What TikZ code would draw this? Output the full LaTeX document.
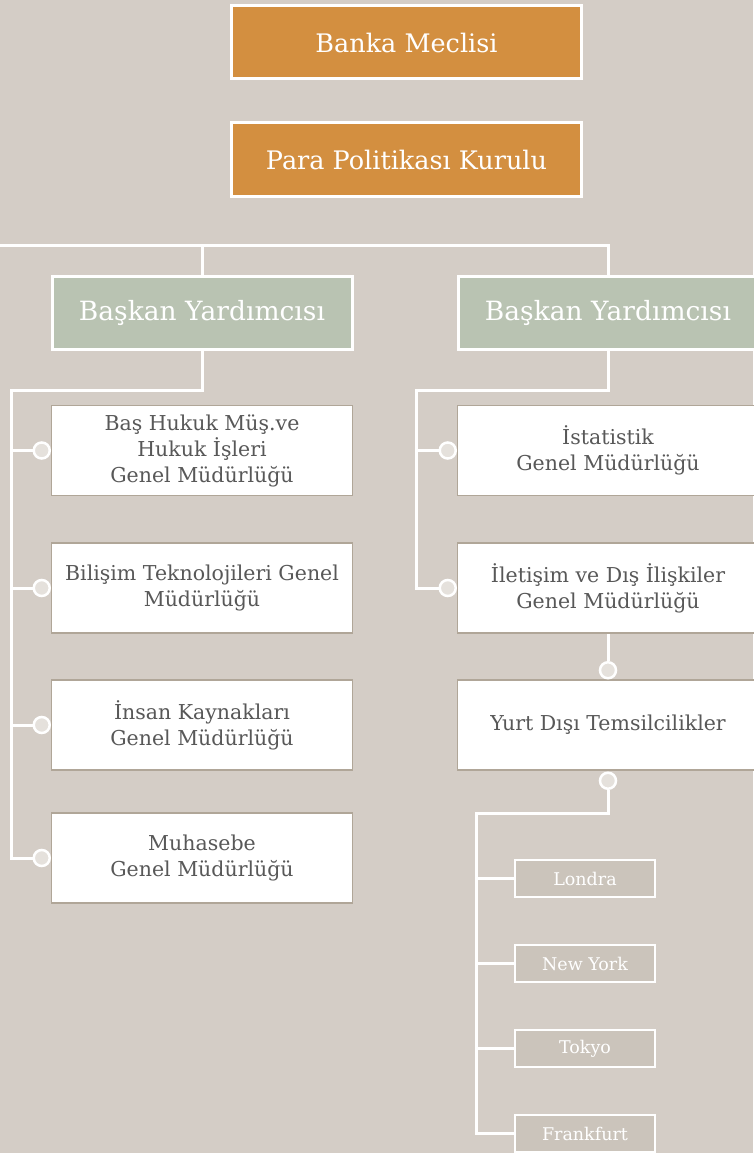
\documentclass[tikz,border=0pt]{standalone}
\usepackage{fontspec}
\setmainfont{DejaVu Serif}
\usetikzlibrary{positioning,calc}
\definecolor{pagebg}{RGB}{212,205,198}
\definecolor{boardcol}{RGB}{211,143,64}
\definecolor{deputycol}{RGB}{185,195,178}
\definecolor{citycol}{RGB}{203,196,187}
\definecolor{deptedge}{RGB}{176,166,152}
\definecolor{depttext}{RGB}{88,88,88}
\definecolor{dotfill}{RGB}{229,225,220}
\tikzset{
  board/.style={draw=white,fill=boardcol,line width=3pt,minimum width=350pt,
                minimum height=73pt,inner sep=0pt,text=white,
                font=\fontsize{25.5}{30}\selectfont},
  deputy/.style={board,fill=deputycol,minimum width=300pt,
                 font=\fontsize{26.5}{30}\selectfont},
  dept/.style={draw=deptedge,fill=white,line width=1.5pt,minimum width=301pt,
               minimum height=90pt,inner sep=0pt,text=depttext,align=center,
               font=\fontsize{20.5}{26}\selectfont},
  city/.style={draw=white,fill=citycol,line width=2.5pt,minimum width=140pt,
               minimum height=37pt,inner sep=0pt,text=white,
               font=\fontsize{17.5}{20}\selectfont},
  link/.style={draw=white,line width=3pt},
  knob/.style={circle,draw=white,fill=dotfill,line width=2.5pt,minimum size=16pt,
               inner sep=0pt},
}

\begin{document}
\begin{tikzpicture}[x=1pt,y=-1pt]
  \useasboundingbox[fill=pagebg] (0,0) rectangle (753,1153);
  % boards
  \node[board] (bm) at (406.5,42.5)  {Banka Meclisi};
  \node[board] (ppk) at (406.5,159.5) {Para Politikası Kurulu};
  % deputies
  \node[deputy] (by1) at (202,313) {Başkan Yardımcısı};
  \node[deputy] (by2) at (608,313) {Başkan Yardımcısı};
  \coordinate (top) at (0,245);
  \draw[link] (top) -| (by2.north);
  \draw[link] (by1.north) -- (by1.north |- top);
  % left departments
  \node[dept] (d1) at (202,450.5) {Baş Hukuk Müş.ve\\Hukuk İşleri\\Genel Müdürlüğü};
  \node[dept] (d2) at (202,588)   {Bilişim Teknolojileri Genel\\Müdürlüğü};
  \node[dept] (d3) at (202,725)   {İnsan Kaynakları\\Genel Müdürlüğü};
  \node[dept] (d4) at (202,858)   {Muhasebe\\Genel Müdürlüğü};
  \coordinate (lspine) at (11,390);
  \foreach \d in {d1,d2,d3,d4}
    \node[knob] (\d k) at ([xshift=-9]\d.west) {};
  \draw[link] (by1.south) |- (lspine) |- (d4k.west);
  \foreach \d in {d1,d2,d3}
    \draw[link] (lspine |- \d k) -- (\d k.west);
  % right departments
  \node[dept] (d5) at (608,450.5) {İstatistik\\Genel Müdürlüğü};
  \node[dept] (d6) at (608,588)   {İletişim ve Dış İlişkiler\\Genel Müdürlüğü};
  \node[dept] (d7) at (608,725)   {Yurt Dışı Temsilcilikler};
  \coordinate (rspine) at (416,390);
  \foreach \d in {d5,d6}
    \node[knob] (\d k) at ([xshift=-9]\d.west) {};
  \draw[link] (by2.south) |- (rspine) |- (d6k.west);
  \draw[link] (rspine |- d5k) -- (d5k.west);
  \node[knob] (d7k) at ([yshift=9]d7.north) {};
  \node[knob] (d7b) at ([yshift=-10]d7.south) {};
  \draw[link] (d6.south) -- (d7k.north);
  % representative offices
  \node[city] (c1) at (585,878.5)  {Londra};
  \node[city] (c2) at (585,963.5)  {New York};
  \node[city] (c3) at (585,1048.5) {Tokyo};
  \node[city] (c4) at (585,1133.5) {Frankfurt};
  \coordinate (cspine) at (476,813);
  \draw[link] (d7b.south) |- (cspine) |- (c4.west);
  \foreach \c in {c1,c2,c3}
    \draw[link] (cspine |- \c) -- (\c.west);
\end{tikzpicture}
\end{document}
